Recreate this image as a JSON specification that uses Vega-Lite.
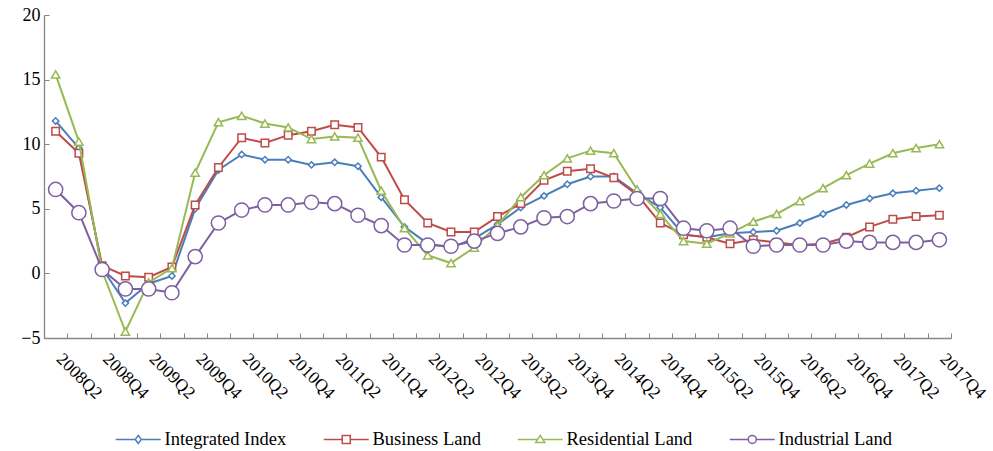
{
  "$schema": "https://vega.github.io/schema/vega-lite/v6.json",
  "width": 907,
  "height": 323,
  "autosize": "none",
  "padding": {"left": 44, "top": 15, "right": 42, "bottom": 113},
  "background": "white",
  "config": {
    "view": {"stroke": null},
    "font": "Times New Roman, Liberation Serif, DejaVu Serif, serif"
  },
  "data": {"values": [
    {"q": "2008Q2", "Integrated Index": 11.8, "Business Land": 11.0, "Residential Land": 15.4, "Industrial Land": 6.5},
    {"q": "2008Q3", "Integrated Index": 9.7, "Business Land": 9.3, "Residential Land": 10.2, "Industrial Land": 4.7},
    {"q": "2008Q4", "Integrated Index": 0.4, "Business Land": 0.6, "Residential Land": 0.2, "Industrial Land": 0.3},
    {"q": "2009Q1", "Integrated Index": -2.3, "Business Land": -0.2, "Residential Land": -4.5, "Industrial Land": -1.2},
    {"q": "2009Q2", "Integrated Index": -0.8, "Business Land": -0.3, "Residential Land": -0.7, "Industrial Land": -1.2},
    {"q": "2009Q3", "Integrated Index": -0.2, "Business Land": 0.5, "Residential Land": 0.4, "Industrial Land": -1.5},
    {"q": "2009Q4", "Integrated Index": 5.0, "Business Land": 5.3, "Residential Land": 7.8, "Industrial Land": 1.3},
    {"q": "2010Q1", "Integrated Index": 8.0, "Business Land": 8.2, "Residential Land": 11.7, "Industrial Land": 3.9},
    {"q": "2010Q2", "Integrated Index": 9.2, "Business Land": 10.5, "Residential Land": 12.2, "Industrial Land": 4.9},
    {"q": "2010Q3", "Integrated Index": 8.8, "Business Land": 10.1, "Residential Land": 11.6, "Industrial Land": 5.3},
    {"q": "2010Q4", "Integrated Index": 8.8, "Business Land": 10.7, "Residential Land": 11.3, "Industrial Land": 5.3},
    {"q": "2011Q1", "Integrated Index": 8.4, "Business Land": 11.0, "Residential Land": 10.4, "Industrial Land": 5.5},
    {"q": "2011Q2", "Integrated Index": 8.6, "Business Land": 11.5, "Residential Land": 10.6, "Industrial Land": 5.4},
    {"q": "2011Q3", "Integrated Index": 8.3, "Business Land": 11.3, "Residential Land": 10.5, "Industrial Land": 4.5},
    {"q": "2011Q4", "Integrated Index": 5.9, "Business Land": 9.0, "Residential Land": 6.4, "Industrial Land": 3.7},
    {"q": "2012Q1", "Integrated Index": 3.6, "Business Land": 5.7, "Residential Land": 3.5, "Industrial Land": 2.2},
    {"q": "2012Q2", "Integrated Index": 2.3, "Business Land": 3.9, "Residential Land": 1.4, "Industrial Land": 2.2},
    {"q": "2012Q3", "Integrated Index": 2.0, "Business Land": 3.2, "Residential Land": 0.8, "Industrial Land": 2.1},
    {"q": "2012Q4", "Integrated Index": 2.7, "Business Land": 3.2, "Residential Land": 2.0, "Industrial Land": 2.5},
    {"q": "2013Q1", "Integrated Index": 3.8, "Business Land": 4.4, "Residential Land": 3.7, "Industrial Land": 3.1},
    {"q": "2013Q2", "Integrated Index": 5.1, "Business Land": 5.4, "Residential Land": 5.9, "Industrial Land": 3.6},
    {"q": "2013Q3", "Integrated Index": 6.0, "Business Land": 7.2, "Residential Land": 7.6, "Industrial Land": 4.3},
    {"q": "2013Q4", "Integrated Index": 6.9, "Business Land": 7.9, "Residential Land": 8.9, "Industrial Land": 4.4},
    {"q": "2014Q1", "Integrated Index": 7.5, "Business Land": 8.1, "Residential Land": 9.5, "Industrial Land": 5.4},
    {"q": "2014Q2", "Integrated Index": 7.5, "Business Land": 7.4, "Residential Land": 9.3, "Industrial Land": 5.6},
    {"q": "2014Q3", "Integrated Index": 6.2, "Business Land": 6.1, "Residential Land": 6.5, "Industrial Land": 5.8},
    {"q": "2014Q4", "Integrated Index": 5.1, "Business Land": 3.9, "Residential Land": 4.6, "Industrial Land": 5.8},
    {"q": "2015Q1", "Integrated Index": 3.0, "Business Land": 3.0, "Residential Land": 2.5, "Industrial Land": 3.5},
    {"q": "2015Q2", "Integrated Index": 2.8, "Business Land": 2.8, "Residential Land": 2.3, "Industrial Land": 3.3},
    {"q": "2015Q3", "Integrated Index": 3.1, "Business Land": 2.3, "Residential Land": 3.1, "Industrial Land": 3.5},
    {"q": "2015Q4", "Integrated Index": 3.2, "Business Land": 2.6, "Residential Land": 4.0, "Industrial Land": 2.1},
    {"q": "2016Q1", "Integrated Index": 3.3, "Business Land": 2.4, "Residential Land": 4.6, "Industrial Land": 2.2},
    {"q": "2016Q2", "Integrated Index": 3.9, "Business Land": 2.2, "Residential Land": 5.6, "Industrial Land": 2.2},
    {"q": "2016Q3", "Integrated Index": 4.6, "Business Land": 2.3, "Residential Land": 6.6, "Industrial Land": 2.2},
    {"q": "2016Q4", "Integrated Index": 5.3, "Business Land": 2.8, "Residential Land": 7.6, "Industrial Land": 2.5},
    {"q": "2017Q1", "Integrated Index": 5.8, "Business Land": 3.6, "Residential Land": 8.5, "Industrial Land": 2.4},
    {"q": "2017Q2", "Integrated Index": 6.2, "Business Land": 4.2, "Residential Land": 9.3, "Industrial Land": 2.4},
    {"q": "2017Q3", "Integrated Index": 6.4, "Business Land": 4.4, "Residential Land": 9.7, "Industrial Land": 2.4},
    {"q": "2017Q4", "Integrated Index": 6.6, "Business Land": 4.5, "Residential Land": 10.0, "Industrial Land": 2.6}
  ]},
  "transform": [
    {"fold": ["Integrated Index", "Business Land", "Residential Land", "Industrial Land"], "as": ["series", "value"]}
  ],
  "encoding": {
    "x": {
      "field": "q", "type": "ordinal", "sort": null,
      "scale": {"type": "band", "paddingInner": 0, "paddingOuter": 0},
      "axis": {
        "title": null, "tickBand": "extent", "tickSize": -5, "tickColor": "#868686", "domainColor": "#868686",
        "tickWidth": 1, "domainWidth": 1.3,
        "labelAngle": 45, "labelAlign": "left", "labelBaseline": "middle",
        "labelFont": "Times New Roman, Liberation Serif, DejaVu Serif, serif", "labelFontSize": 17.5, "labelColor": "black", "labelPadding": 23, "labelOffset": 3,
        "labelExpr": "(substring(datum.label, 5) == '2' || substring(datum.label, 5) == '4') ? datum.label : ''",
        "labelOverlap": false
      }
    },
    "y": {
      "field": "value", "type": "quantitative",
      "scale": {"domain": [-5, 20], "nice": false, "zero": false},
      "axis": {
        "title": null, "values": [-5, 0, 5, 10, 15, 20], "grid": false,
        "tickSize": -5, "tickColor": "#868686", "domainColor": "#868686", "domainWidth": 1.3,
        "labelFont": "Times New Roman, Liberation Serif, DejaVu Serif, serif", "labelFontSize": 18, "labelColor": "black", "labelPadding": 9
      }
    }
  },
  "layer": [
    {
      "mark": {"type": "point", "opacity": 0, "filled": false, "strokeWidth": 1.5},
      "encoding": {
        "color": {
          "field": "series", "type": "nominal",
          "scale": {"domain": ["Integrated Index", "Business Land", "Residential Land", "Industrial Land"], "range": ["#4A7EBB", "#BE4B48", "#98B954", "#7D60A0"]},
          "legend": {
            "orient": "none", "legendX": 85, "legendY": 415, "direction": "horizontal", "title": null,
            "labelFont": "Times New Roman, Liberation Serif, DejaVu Serif, serif", "labelFontSize": 18.5, "labelColor": "black",
            "symbolSize": 100, "symbolStrokeWidth": 1.5, "symbolOpacity": 1, "labelOffset": 17, "columnPadding": 33
          }
        },
        "shape": {
          "field": "series", "type": "nominal",
          "scale": {
            "domain": ["Integrated Index", "Business Land", "Residential Land", "Industrial Land"],
            "range": [
              "M-4.5,0L-0.6,0M0.6,0L4.5,0M0,-0.8L0.6,0L0,0.8L-0.6,0Z",
              "M-4.5,0L-0.8,0M0.8,0L4.5,0M-0.8,-0.8L0.8,-0.8L0.8,0.8L-0.8,0.8Z",
              "M-4.5,0L-0.51,0M0.51,0L4.5,0M0,-0.8L0.9,0.6L-0.9,0.6Z",
              "M-4.5,0L-0.8,0M0.8,0L4.5,0M-0.8,0A0.8,0.8,0,1,0,0.8,0A0.8,0.8,0,1,0,-0.8,0Z"
            ]
          },
          "legend": {
            "orient": "none", "legendX": 85, "legendY": 415, "direction": "horizontal", "title": null,
            "labelFont": "Times New Roman, Liberation Serif, DejaVu Serif, serif", "labelFontSize": 18.5, "labelColor": "black",
            "symbolSize": 100, "symbolStrokeWidth": 1.5, "symbolOpacity": 1, "labelOffset": 17, "columnPadding": 33
          }
        }
      }
    },
    {
      "transform": [{"filter": "datum.series === 'Integrated Index'"}],
      "mark": {"type": "line", "strokeWidth": 2, "color": "#4A7EBB"}
    },
    {
      "transform": [{"filter": "datum.series === 'Integrated Index'"}],
      "mark": {"type": "point", "shape": "diamond", "size": 40, "filled": true, "fill": "white", "stroke": "#4A7EBB", "strokeWidth": 1.5, "opacity": 1}
    },
    {
      "transform": [{"filter": "datum.series === 'Business Land'"}],
      "mark": {"type": "line", "strokeWidth": 2, "color": "#BE4B48"}
    },
    {
      "transform": [{"filter": "datum.series === 'Business Land'"}],
      "mark": {"type": "point", "shape": "square", "size": 56, "filled": true, "fill": "white", "stroke": "#BE4B48", "strokeWidth": 1.5, "opacity": 1}
    },
    {
      "transform": [{"filter": "datum.series === 'Residential Land'"}],
      "mark": {"type": "line", "strokeWidth": 2, "color": "#98B954"}
    },
    {
      "transform": [{"filter": "datum.series === 'Residential Land'"}],
      "mark": {"type": "point", "shape": "triangle-up", "size": 70, "filled": true, "fill": "white", "stroke": "#98B954", "strokeWidth": 1.5, "opacity": 1}
    },
    {
      "transform": [{"filter": "datum.series === 'Industrial Land'"}],
      "mark": {"type": "line", "strokeWidth": 2, "color": "#7D60A0"}
    },
    {
      "transform": [{"filter": "datum.series === 'Industrial Land'"}],
      "mark": {"type": "point", "shape": "circle", "size": 200, "filled": true, "fill": "white", "stroke": "#7D60A0", "strokeWidth": 1.5, "opacity": 1}
    }
  ]
}
